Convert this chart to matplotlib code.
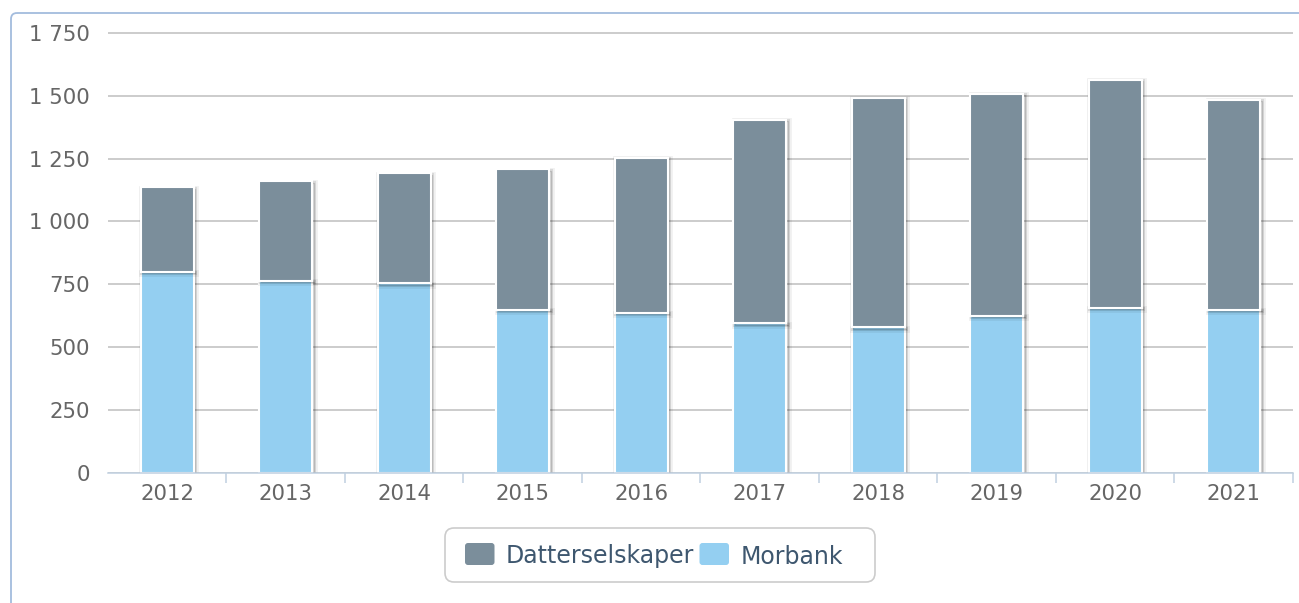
import matplotlib
matplotlib.use('Agg')
import matplotlib.pyplot as plt
import matplotlib.patheffects as pe
from matplotlib.patches import FancyBboxPatch
from matplotlib.ticker import FixedLocator, FuncFormatter

# Data
years = ['2012', '2013', '2014', '2015', '2016', '2017', '2018', '2019', '2020', '2021']
morbank = [800, 765, 755, 650, 637, 595, 580, 625, 658, 650]
datterselskaper = [335, 395, 437, 557, 615, 809, 911, 882, 905, 833]
series_names = ['Datterselskaper', 'Morbank']
y_ticks = [0, 250, 500, 750, 1000, 1250, 1500, 1750]

# Colours
col_datter = '#7B8E9B'
col_morbank = '#94CFF1'
col_grid = '#C4C4C4'
col_axis = '#C0D0E0'
col_label = '#666666'
col_legend = '#3E576F'

W, H = 1299, 603
fig = plt.figure(figsize=(W / 100, H / 100), dpi=100)

# pixel -> figure fraction helpers
def fx(px):
    return px / W

def fy(py):
    return 1 - py / H


# Soft outline shadow (stroke only, offset down-right), like the web chart
class OutlineShadow(pe.AbstractPathEffect):
    def __init__(self, offset, lw, alpha):
        super().__init__(offset)
        self.lw = lw
        self.alpha = alpha

    def draw_path(self, renderer, gc, tpath, affine, rgbFace):
        gc0 = renderer.new_gc()
        gc0.copy_properties(gc)
        gc0.set_linewidth(self.lw)
        gc0.set_foreground('black')
        gc0.set_alpha(self.alpha)
        renderer.draw_path(gc0, tpath, affine + self._offset_transform(renderer), None)
        gc0.restore()


ax = fig.add_axes([fx(108), fy(473.3), fx(1293) - fx(108), fy(20) - fy(473.3)])

x = list(range(len(years)))
shadow = [OutlineShadow((1.0, -1.0), 5.0, 0.05),
          OutlineShadow((1.0, -1.0), 3.0, 0.10),
          OutlineShadow((1.0, -1.0), 1.0, 0.15),
          pe.Normal()]

# Stacked bars: Morbank at the bottom, Datterselskaper on top
bars_m = ax.bar(x, morbank, width=0.447, color=col_morbank, edgecolor='white', linewidth=1.5, zorder=3)
bars_d = ax.bar(x, datterselskaper, bottom=morbank, width=0.447, color=col_datter, edgecolor='white', linewidth=1.5, zorder=3)
for b in list(bars_m) + list(bars_d):
    b.set_path_effects(shadow)

# Axes limits
ax.set_xlim(-0.5, len(years) - 0.5)
ax.set_ylim(0, 1800)

# Grid
ax.yaxis.set_major_locator(FixedLocator(y_ticks))
ax.yaxis.set_major_formatter(FuncFormatter(lambda v, p: f'{int(v):,}'.replace(',', ' ')))
ax.yaxis.grid(True, color=col_grid, linewidth=1.2)
ax.set_axisbelow(True)

# X ticks: labels at centres, tick marks at category boundaries
ax.set_xticks(x)
ax.set_xticklabels(years)
ax.set_xticks([i + 0.5 for i in x], minor=True)
ax.tick_params(axis='x', which='major', length=0, pad=7.5, labelsize=15.3, labelcolor=col_label)
ax.tick_params(axis='x', which='minor', length=7, width=1.1, color=col_axis, direction='out')
ax.tick_params(axis='y', length=0, pad=13, labelsize=15.3, labelcolor=col_label)

# Spines
for s in ['top', 'right', 'left']:
    ax.spines[s].set_visible(False)
ax.spines['bottom'].set_color(col_axis)
ax.spines['bottom'].set_linewidth(1.1)
ax.spines['bottom'].set_zorder(4)

# Overlay in pixel coordinates for chart border and legend
ov = fig.add_axes([0, 0, 1, 1], zorder=5)
ov.set_xlim(0, W)
ov.set_ylim(H, 0)
ov.axis('off')
ov.patch.set_alpha(0)

# Chart border (only top and left visible in the crop)
ov.add_patch(FancyBboxPatch((11, 13), 1500, 800, boxstyle='round,pad=0,rounding_size=6',
                            fc='none', ec='#A3BCDD', lw=1.3))

# Legend box
ov.add_patch(FancyBboxPatch((445, 528), 430, 54, boxstyle='round,pad=0,rounding_size=9',
                            fc='white', ec='#CCCCCC', lw=1.2))
leg_items = [(series_names[0], col_datter, 465, 506), (series_names[1], col_morbank, 699.5, 741)]
for name, col, sx, tx in leg_items:
    ov.add_patch(FancyBboxPatch((sx, 543), 29.5, 22, boxstyle='round,pad=0,rounding_size=3',
                                fc=col, ec='none'))
    ov.text(tx, 563.5, name, fontsize=17, color=col_legend, va='baseline', ha='left')

plt.savefig('out.png', dpi=100)
plt.close()
